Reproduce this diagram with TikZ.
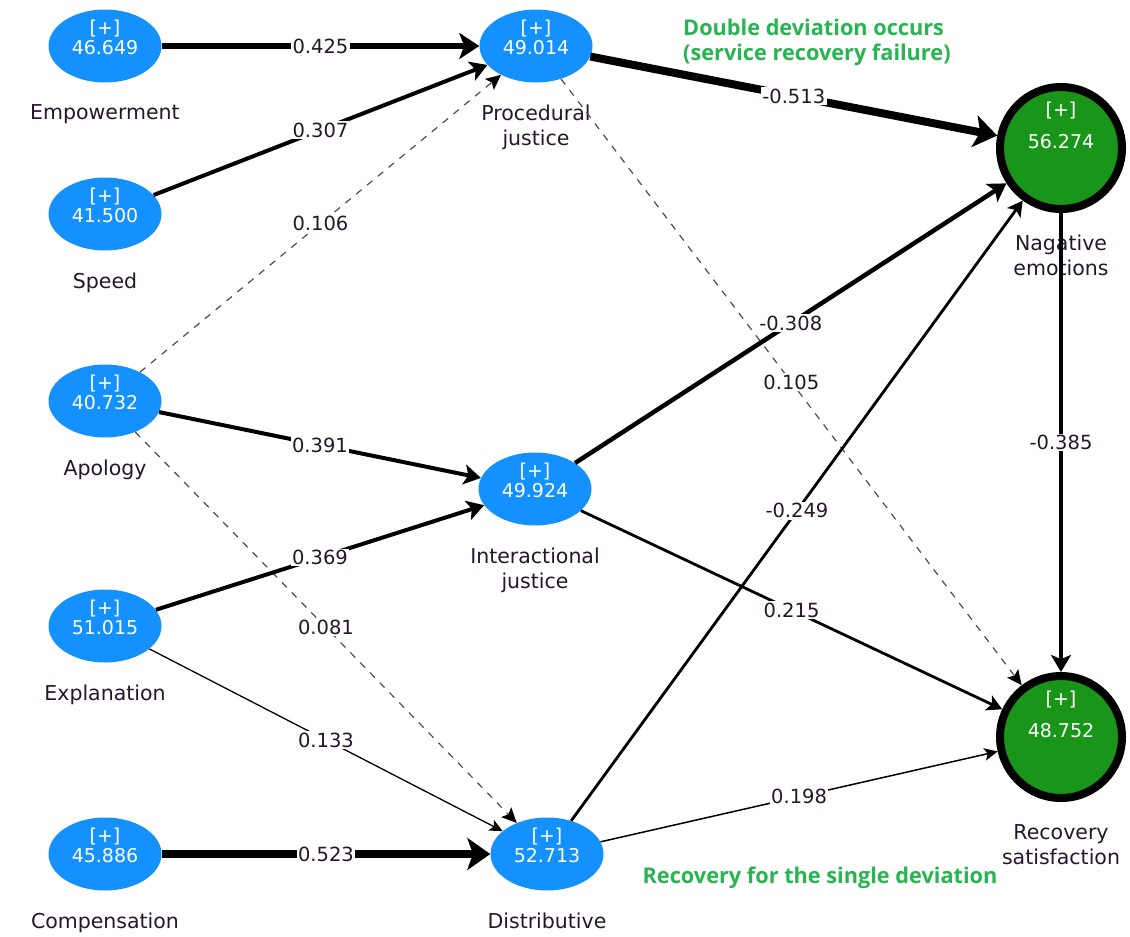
\documentclass[tikz,border=0pt]{standalone}
\usepackage{fontspec}
\setmainfont{DejaVu Sans}
\newfontfamily\notefont{Open Sans}
\usetikzlibrary{arrows.meta,positioning,shapes.geometric}

\definecolor{lvblue}{RGB}{20,145,255}
\definecolor{lvgreen}{RGB}{25,150,25}
\definecolor{notegreen}{RGB}{40,180,80}
\definecolor{ink}{RGB}{40,20,45}

\begin{document}
\begin{tikzpicture}[%
x=1pt, y=-1pt,
>={Stealth[length=11pt 1.5, width=8pt 3, inset=2.5pt 0.4]},
lv/.style={ellipse, fill=lvblue, minimum width=113pt, minimum height=73pt, inner sep=0pt},
dv/.style={circle, draw=black, fill=lvgreen, line width=8pt, minimum size=122pt, inner sep=0pt},
val/.style={text=white, align=center, font=\fontsize{19}{20}\selectfont, inner sep=0pt},
lvname/.style={text=ink, align=center, font=\fontsize{20.5}{25}\selectfont, inner sep=0pt},
coef/.style={fill=white, text=ink, font=\fontsize{19.5}{20}\selectfont, inner sep=1.5pt},
greennote/.style={text=notegreen, align=left, font=\notefont\bfseries\fontsize{21.7}{25}\selectfont, inner sep=0pt},
rel/.style={->, draw=black, line width=#1},
weak/.style={-{Stealth[length=15pt, width=14pt, inset=3pt, black]}, draw=black!70, dash pattern=on 7pt off 7pt, line width=1.2pt}
]
\useasboundingbox (0,0) rectangle (1130,937);

% exogenous constructs
\node[lv] (emp)  at (105,46)  {};
\node[lv] (spd)  at (105,214) {};
\node[lv] (apo)  at (105,401) {};
\node[lv] (expl) at (105,626) {};
\node[lv] (comp) at (105,854) {};

% justice dimensions
\node[lv] (proc)  at (536,46)  {};
\node[lv] (inter) at (535,489) {};
\node[lv] (dist)  at (547,854) {};

% outcomes
\node[dv] (neg) at (1061,148) {};
\node[dv] (rec) at (1061,737) {};

% scores
\node[val] (empv)   at ([yshift=9pt]emp.center)   {[+]\\46.649};
\node[val] (spdv)   at ([yshift=9pt]spd.center)   {[+]\\41.500};
\node[val] (apov)   at ([yshift=9pt]apo.center)   {[+]\\40.732};
\node[val] (explv)  at ([yshift=9pt]expl.center)  {[+]\\51.015};
\node[val] (compv)  at ([yshift=9pt]comp.center)  {[+]\\45.886};
\node[val] (procv)  at ([yshift=9pt]proc.center)  {[+]\\49.014};
\node[val] (interv) at ([yshift=9pt]inter.center) {[+]\\49.924};
\node[val] (distv)  at ([yshift=9pt]dist.center)  {[+]\\52.713};
\node[val] (negv)   at ([yshift=23pt]neg.center)  {[+]\\[12pt]56.274};
\node[val] (recv)   at ([yshift=23pt]rec.center)  {[+]\\[12pt]48.752};

% construct names
\node[lvname, below=22pt of emp]   (empn)   {Empowerment};
\node[lvname, below=22pt of spd]   (spdn)   {Speed};
\node[lvname, below=22pt of apo]   (apon)   {Apology};
\node[lvname, below=22pt of expl]  (expln)  {Explanation};
\node[lvname, below=22pt of comp]  (compn)  {Compensation};
\node[lvname, below=22pt of proc]  (procn)  {Procedural\\justice};
\node[lvname, below=22pt of inter] (intern) {Interactional\\justice};
\node[lvname, below=22pt of dist]  (distn)  {Distributive};
\node[lvname, below=22pt of neg]   (negn)   {Nagative\\emotions};
\node[lvname, below=22pt of rec]   (recn)   {Recovery\\satisfaction};

% notes
\node[greennote, anchor=north west] (dblnote) at (683,19) {Double deviation occurs\\(service recovery failure)};
\node[greennote, anchor=base] (sglnote) at (820,883) {Recovery for the single deviation};

% paths
\draw[rel=6pt]   (emp)   -- node[coef] {0.425}  (proc);
\draw[rel=4pt]   (spd)   -- node[coef] {0.307}  (proc);
\draw[weak]      (apo)   -- node[coef] {0.106}  (proc);
\draw[rel=4pt]   (apo)   -- node[coef] {0.391}  (inter);
\draw[weak]      (apo)   -- node[coef] {0.081}  (dist);
\draw[rel=4pt]   (expl)  -- node[coef] {0.369}  (inter);
\draw[rel=1.3pt] (expl)  -- node[coef] {0.133}  (dist);
\draw[rel=8pt]   (comp)  -- node[coef] {0.523}  (dist);
\draw[rel=8pt]   (proc)  -- node[coef] {-0.513} (neg);
\draw[weak]      (proc)  -- node[coef] {0.105}  (rec);
\draw[rel=4.5pt] (inter) -- node[coef] {-0.308} (neg);
\draw[rel=2.8pt] (inter) -- node[coef] {0.215}  (rec);
\draw[rel=2.8pt] (dist)  -- node[coef] {-0.249} (neg);
\draw[rel=1.5pt] (dist)  -- node[coef] {0.198}  (rec);
\draw[rel=4pt]   (neg)   -- node[coef] {-0.385} (rec);

\end{tikzpicture}
\end{document}
